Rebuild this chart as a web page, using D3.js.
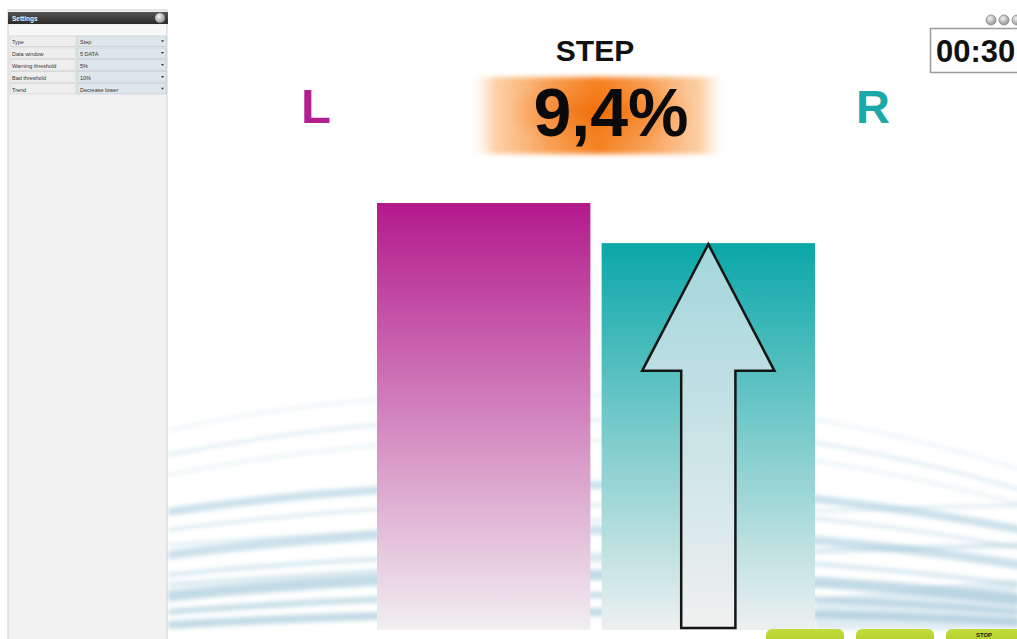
<!DOCTYPE html>
<html>
<head>
<meta charset="utf-8">
<script src="https://cdn.jsdelivr.net/npm/d3@7"></script>
<style>
html,body{margin:0;padding:0;background:#fff;overflow:hidden;}
svg{display:block;font-family:"Liberation Sans",Arial,sans-serif;}
</style>
</head>
<body>
<svg id="chart" width="1017" height="639"></svg>
<script>
// ---- data ----
const categories = ["L", "R"];
const values = [100, 90.6];
const labelColors = ["#b0218f", "#1aa8a8"];
const title = "STEP";
const timerText = "00:30";
const settingLabels = ["Type", "Data window", "Warning threshold", "Bad threshold", "Trend"];
const settingValues = ["Step", "5 DATA", "5%", "10%", "Decrease lower"];
const buttonLabels = ["", "", "STOP"];

const W = 1017, H = 639;
const svg = d3.select("#chart");
const defs = svg.append("defs");

function vgrad(id, top, bottom) {
  const g = defs.append("linearGradient").attr("id", id)
    .attr("x1", 0).attr("y1", 0).attr("x2", 0).attr("y2", 1);
  g.append("stop").attr("offset", "0%").attr("stop-color", top);
  g.append("stop").attr("offset", "100%").attr("stop-color", bottom);
}
vgrad("gL", "#b31a8c", "#f1eff0");
vgrad("gR", "#0aa7a8", "#eef0f0");
vgrad("gArrow", "#a2d6dc", "#f0f0f0");
vgrad("gHeader", "#555", "#2a2a2a");
vgrad("gBtn", "#c2dc3c", "#a8c822");
// glow band: horizontal fade
const hg = defs.append("linearGradient").attr("id", "gGlowH").attr("x1", 0).attr("y1", 0).attr("x2", 1).attr("y2", 0);
[[0, "#ffffff", 0], [0.1, "#fdd2aa", 1], [0.3, "#f9a35c", 1], [0.5, "#f5801f", 1], [0.7, "#f9a35c", 1], [0.9, "#fdd2aa", 1], [1, "#ffffff", 0]]
  .forEach(s => hg.append("stop").attr("offset", s[0]).attr("stop-color", s[1]).attr("stop-opacity", s[2]));
const rg = defs.append("radialGradient").attr("id", "gGlowC").attr("cx", 0.5).attr("cy", 0.5).attr("r", 0.5);
rg.append("stop").attr("offset", "0%").attr("stop-color", "#f06a05").attr("stop-opacity", 0.9);
rg.append("stop").attr("offset", "100%").attr("stop-color", "#f58a30").attr("stop-opacity", 0);
const cg = defs.append("radialGradient").attr("id", "gCircle").attr("cx", 0.4).attr("cy", 0.35).attr("r", 0.6);
cg.append("stop").attr("offset", "0%").attr("stop-color", "#f4f4f4");
cg.append("stop").attr("offset", "100%").attr("stop-color", "#9a9a9a");
defs.append("filter").attr("id", "blur").attr("x", "-10%").attr("y", "-50%").attr("width", "120%").attr("height", "200%")
  .append("feGaussianBlur").attr("stdDeviation", 2);
defs.append("filter").attr("id", "blurGlow").attr("x", "-20%").attr("y", "-20%").attr("width", "140%").attr("height", "140%")
  .append("feGaussianBlur").attr("stdDeviation", 2.5);

svg.append("rect").attr("width", W).attr("height", H).attr("fill", "#fff");

// decorative swooshes (background artwork)
const swooshes = [
  [430, 395, 470, 2, 0.25], [455, 420, 490, 3, 0.3], [475, 440, 505, 2, 0.3],
  [512, 485, 530, 8, 0.45], [530, 505, 548, 3, 0.35], [555, 530, 565, 9, 0.45],
  [575, 555, 585, 4, 0.4], [596, 575, 600, 11, 0.55], [612, 595, 612, 6, 0.5],
  [625, 612, 622, 8, 0.55], [545, 520, 505, 3, 0.3], [585, 560, 545, 5, 0.35]
];
const sg = svg.append("g").attr("filter", "url(#blur)");
swooshes.forEach(s => {
  const x0 = 168, x1 = W + 5, xm = 600;
  sg.append("path")
    .attr("d", `M${x0},${s[0]} Q${xm},${2 * s[1] - (s[0] + s[2]) / 2} ${x1},${s[2]}`)
    .attr("fill", "none").attr("stroke", "#8fbdd2")
    .attr("stroke-width", s[3]).attr("stroke-opacity", s[4]);
});
svg.append("path").attr("d", "M815,600 Q920,585 1017,580 L1017,630 L815,630 Z")
  .attr("fill", "#a9cbdb").attr("opacity", 0.35).attr("filter", "url(#blur)");

// scales
const x = d3.scaleBand().domain(categories).range([377, 815]).paddingInner(0.05);
const y = d3.scaleLinear().domain([0, 100]).range([630, 203]);

// bars
svg.append("g").selectAll("rect").data(categories).join("rect")
  .attr("x", d => x(d))
  .attr("y", (d, i) => y(values[i]))
  .attr("width", x.bandwidth())
  .attr("height", (d, i) => y(0) - y(values[i]))
  .attr("fill", d => "url(#g" + d + ")");

// trend arrow inside R bar
{
  const bx = x("R"), bw = x.bandwidth(), top = y(values[1]);
  const cx = bx + bw / 2;
  const headHalf = bw * 0.31, shaftHalf = bw * 0.127;
  const headBase = top + (y(0) - top) * 0.33, bottom = y(0) - 2;
  const pts = [[cx, top + 1], [cx + headHalf, headBase], [cx + shaftHalf, headBase], [cx + shaftHalf, bottom],
    [cx - shaftHalf, bottom], [cx - shaftHalf, headBase], [cx - headHalf, headBase]];
  svg.append("polygon").attr("points", pts.map(p => p.join(",")).join(" "))
    .attr("fill", "url(#gArrow)").attr("stroke", "#151515").attr("stroke-width", 2.5)
    .attr("stroke-linejoin", "miter");
}

// title and value
svg.append("text").attr("x", 595).attr("y", 61).attr("text-anchor", "middle")
  .attr("font-size", 30).attr("font-weight", "bold").attr("fill", "#111").text(title);
const glow = svg.append("g").attr("filter", "url(#blurGlow)");
glow.append("rect").attr("x", 468).attr("y", 77).attr("width", 260).attr("height", 77).attr("fill", "url(#gGlowH)");
glow.append("ellipse").attr("cx", 600).attr("cy", 112).attr("rx", 95).attr("ry", 38).attr("fill", "url(#gGlowC)");
const asym = (values[0] - values[1]) / values[0] * 100;
svg.append("text").attr("x", 611).attr("y", 136).attr("text-anchor", "middle")
  .attr("font-size", 68).attr("font-weight", "bold").attr("fill", "#0a0a0a")
  .text(d3.format(".1f")(asym).replace(".", ",") + "%");

// side labels
svg.append("text").attr("x", 316).attr("y", 123).attr("text-anchor", "middle")
  .attr("font-size", 49).attr("font-weight", "bold").attr("fill", labelColors[0]).text(categories[0]);
svg.append("text").attr("x", 873).attr("y", 123).attr("text-anchor", "middle")
  .attr("font-size", 47).attr("font-weight", "bold").attr("fill", labelColors[1]).text(categories[1]);

// timer
svg.append("rect").attr("x", 930.5).attr("y", 28.5).attr("width", 100).attr("height", 44)
  .attr("fill", "#fff").attr("stroke", "#9a9a9a").attr("stroke-width", 1.5);
svg.append("text").attr("x", 936).attr("y", 62).attr("font-size", 31).attr("font-weight", "bold")
  .attr("fill", "#111").text(timerText);
[991, 1004, 1017].forEach(cx => {
  svg.append("circle").attr("cx", cx).attr("cy", 20).attr("r", 5)
    .attr("fill", "url(#gCircle)").attr("stroke", "#888").attr("stroke-width", 0.8);
});

// bottom buttons
const btnX = [766, 856, 946];
btnX.forEach((bx, i) => {
  svg.append("rect").attr("x", bx).attr("y", 629).attr("width", i === 2 ? 80 : 78).attr("height", 20)
    .attr("rx", 6).attr("fill", "url(#gBtn)");
  if (buttonLabels[i]) svg.append("text").attr("x", bx + 38).attr("y", 637).attr("text-anchor", "middle")
    .attr("font-size", 6).attr("font-weight", "bold").attr("fill", "#222").text(buttonLabels[i]);
});

// settings panel
const panel = svg.append("g");
panel.append("rect").attr("x", 8).attr("y", 10).attr("width", 159).attr("height", 640)
  .attr("fill", "#f2f2f2").attr("stroke", "#cfcfcf").attr("stroke-width", 1);
panel.append("rect").attr("x", 8).attr("y", 12).attr("width", 160).attr("height", 12)
  .attr("fill", "url(#gHeader)");
panel.append("text").attr("x", 12).attr("y", 21).attr("font-size", 6.5).attr("font-weight", "bold")
  .attr("fill", "#eee").text("Settings");
panel.append("circle").attr("cx", 160).attr("cy", 18).attr("r", 5).attr("fill", "url(#gCircle)");
panel.append("rect").attr("x", 9).attr("y", 25).attr("width", 157).attr("height", 70).attr("fill", "#f7f7f7");
const rowY = d3.scaleBand().domain(settingLabels).range([36, 94]).paddingInner(0.12);
settingLabels.forEach((lab, i) => {
  const ry = rowY(lab), rh = rowY.bandwidth();
  panel.append("rect").attr("x", 10).attr("y", ry).attr("width", 66).attr("height", rh)
    .attr("fill", "#eeeeee").attr("stroke", "#c8c8c8").attr("stroke-width", 0.6);
  panel.append("rect").attr("x", 77).attr("y", ry).attr("width", 89).attr("height", rh)
    .attr("fill", "#dde7eb").attr("stroke", "#b8c4c8").attr("stroke-width", 0.6);
  panel.append("text").attr("x", 12).attr("y", ry + rh - 2.5).attr("font-size", 5.5)
    .attr("fill", "#333").text(lab);
  panel.append("text").attr("x", 80).attr("y", ry + rh - 2.5).attr("font-size", 5.5)
    .attr("fill", "#333").text(settingValues[i]);
  panel.append("path").attr("d", `M161,${ry + rh / 2 - 1} l3,0 l-1.5,2 z`).attr("fill", "#333");
});
</script>
</body>
</html>
